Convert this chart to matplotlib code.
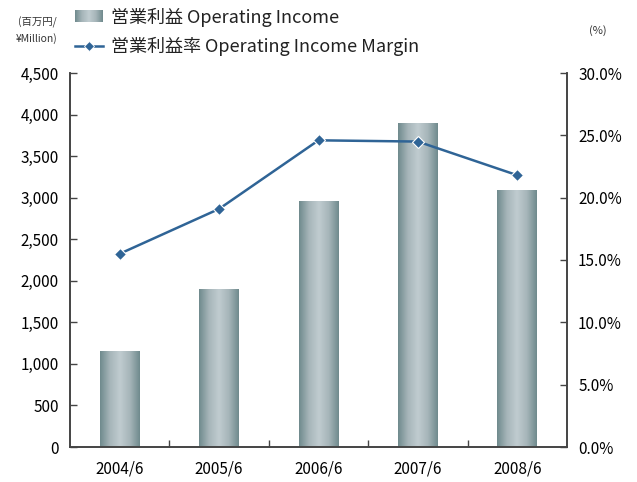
import numpy as np
import matplotlib.pyplot as plt
from matplotlib.colors import LinearSegmentedColormap
from matplotlib.ticker import FuncFormatter

# データ
years = ["2004/6", "2005/6", "2006/6", "2007/6", "2008/6"]
income = [1160, 1905, 2960, 3900, 3090]          # 営業利益 (百万円)
margin = [15.5, 19.1, 24.6, 24.5, 21.8]          # 営業利益率 (%)

plt.rcParams['font.family'] = ['Noto Sans CJK JP', 'DejaVu Sans']

fig = plt.figure(figsize=(6.37, 4.82), dpi=100)
ax = fig.add_axes([70 / 637, 35 / 482, 497 / 637, 374 / 482])

cmap = LinearSegmentedColormap.from_list(
    "bar", ["#6f8a8d", "#a6b5b9", "#c0ccd0", "#a6b5b9", "#6f8a8d"])
grad = np.linspace(0, 1, 256).reshape(1, -1)

x = np.arange(len(years))
bars = ax.bar(x, income, width=0.4, color="none", edgecolor="none", zorder=2)
for b in bars:
    im = ax.imshow(grad, cmap=cmap, aspect="auto", zorder=2,
                   extent=[b.get_x(), b.get_x() + b.get_width(), 0, b.get_height()])
    im.set_clip_path(b)

ax.set_xlim(-0.5, 4.5)
ax.set_ylim(0, 4500)
ax.set_yticks(np.arange(0, 4501, 500))
ax.yaxis.set_major_formatter(FuncFormatter(lambda v, p: f"{int(v):,}"))
ax.set_xticks(x)
ax.set_xticklabels(years)
ax.set_xticks(np.arange(0.5, 4.5, 1), minor=True)
ax.tick_params(axis="x", which="major", length=0, pad=10, labelsize=11)
ax.tick_params(axis="x", which="minor", direction="in", length=5, width=1, color="#444444")
ax.tick_params(axis="y", direction="in", length=5, width=1, color="#444444", labelsize=11, pad=8)
ax.spines["top"].set_visible(False)
for s in ["left", "bottom", "right"]:
    ax.spines[s].set_color("#444444")
    ax.spines[s].set_linewidth(1.2)

ax2 = ax.twinx()
ax2.plot(x, margin, color="#2f6496", linewidth=1.8, marker="D", markersize=6,
         markeredgecolor="white", markeredgewidth=0.8, zorder=3)
ax2.set_ylim(0, 30)
ax2.set_yticks(np.arange(0, 30.1, 5))
ax2.yaxis.set_major_formatter(FuncFormatter(lambda v, p: f"{v:.1f}%"))
ax2.tick_params(axis="y", direction="in", length=5, width=1, color="#444444", labelsize=11, pad=8)
ax2.spines["top"].set_visible(False)
for s in ["left", "bottom", "right"]:
    ax2.spines[s].set_color("#444444")
    ax2.spines[s].set_linewidth(1.2)

# 凡例 (図の上部)
lax = fig.add_axes([0, 0, 1, 1], facecolor="none")
lax.set_xlim(0, 637)
lax.set_ylim(482, 0)
lax.axis("off")
lg = lax.imshow(grad, cmap=cmap, aspect="auto", extent=[75, 103, 22, 10])
lax.text(111, 17, "営業利益 Operating Income", fontsize=13, va="center", color="#222222")
lax.plot([75, 103], [46, 46], color="#2f6496", linewidth=1.8)
lax.plot([89], [46], marker="D", markersize=5.5, color="#2f6496",
         markeredgecolor="white", markeredgewidth=0.6)
lax.text(111, 46, "営業利益率 Operating Income Margin", fontsize=13, va="center", color="#222222")
lax.text(37, 22, "(百万円/", fontsize=7.5, ha="center", va="center", color="#333333")
lax.text(37, 39, "¥Million)", fontsize=7.5, ha="center", va="center", color="#333333")
lax.text(598, 31, "(%)", fontsize=8, ha="center", va="center", color="#333333")

fig.savefig("out.png", dpi=100)
